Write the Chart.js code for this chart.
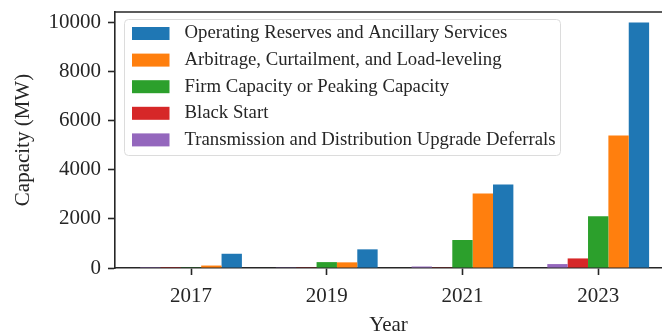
<!DOCTYPE html>
<html>
<head>
<meta charset="utf-8">
<title>Storage capacity by application</title>
<script src="https://cdn.jsdelivr.net/npm/chart.js@4/dist/chart.umd.min.js"></script>
<style>
  html, body { margin: 0; padding: 0; background: #ffffff; }
  #chart { display: block; }
</style>
</head>
<body>
<canvas id="chart" width="662" height="335"></canvas>
<script>
  // Capacity (MW) per year for each application
  var years = [2017, 2019, 2021, 2023];
  var transmissionDeferral = [5, 10, 60, 160];
  var blackStart = [5, 10, 30, 390];
  var firmCapacity = [30, 240, 1140, 2110];
  var arbitrage = [100, 230, 3040, 5400];
  var operatingReserves = [580, 760, 3400, 10000];
  var yTicks = [0, 2000, 4000, 6000, 8000, 10000];

  var INK = '#262626';
  var FONT = "'Liberation Serif', 'Times New Roman', serif";

  // Top spine (the left and bottom ones come from the axis borders)
  var topSpine = {
    id: 'topSpine',
    afterDraw: function (chart) {
      var ctx = chart.ctx;
      var area = chart.chartArea;
      ctx.save();
      ctx.strokeStyle = INK;
      ctx.lineWidth = 1.6;
      ctx.beginPath();
      ctx.moveTo(area.left, area.top);
      ctx.lineTo(chart.width, area.top);
      ctx.stroke();
      ctx.restore();
    }
  };

  // Framed legend in the upper-left corner of the plot, last dataset first
  var boxedLegend = {
    id: 'boxedLegend',
    afterDatasetsDraw: function (chart) {
      var ctx = chart.ctx;
      var area = chart.chartArea;
      var x = area.left + 9.5;
      var y = area.top + 7.5;
      var w = 436;
      var h = 136;
      var r = 4;
      var rowH = 26.6;

      ctx.save();
      ctx.fillStyle = 'rgba(255,255,255,0.8)';
      ctx.strokeStyle = '#dcdcdc';
      ctx.lineWidth = 1;
      ctx.beginPath();
      ctx.roundRect(x, y, w, h, r);
      ctx.fill();
      ctx.stroke();

      ctx.font = '18.75px ' + FONT;
      ctx.textBaseline = 'middle';
      ctx.textAlign = 'left';
      var sets = chart.data.datasets.slice().reverse();
      sets.forEach(function (ds, i) {
        var cy = y + 14 + i * rowH;
        ctx.fillStyle = ds.backgroundColor;
        ctx.fillRect(x + 7.5, cy - 6.5, 37.5, 13);
        ctx.fillStyle = INK;
        ctx.fillText(ds.label, x + 60, cy);
      });
      ctx.restore();
    }
  };

  // keep the plot box fixed: no extra room for half tick labels
  function noEdgePadding(axis) {
    axis.paddingTop = 0;
    axis.paddingBottom = 0;
    axis.paddingLeft = 0;
    axis.paddingRight = 0;
  }

  new Chart(document.getElementById('chart'), {
    type: 'bar',
    data: {
      labels: years,
      datasets: [
        { label: 'Transmission and Distribution Upgrade Deferrals', data: transmissionDeferral, backgroundColor: '#9467bd' },
        { label: 'Black Start', data: blackStart, backgroundColor: '#d62728' },
        { label: 'Firm Capacity or Peaking Capacity', data: firmCapacity, backgroundColor: '#2ca02c' },
        { label: 'Arbitrage, Curtailment, and Load-leveling', data: arbitrage, backgroundColor: '#ff7f0e' },
        { label: 'Operating Reserves and Ancillary Services', data: operatingReserves, backgroundColor: '#1f77b4' }
      ]
    },
    options: {
      responsive: false,
      devicePixelRatio: 1,
      animation: false,
      categoryPercentage: 0.75,
      barPercentage: 1,
      layout: { padding: { top: 12, right: 0, bottom: 0, left: 0 } },
      plugins: {
        legend: { display: false },
        tooltip: { enabled: false }
      },
      scales: {
        x: {
          type: 'linear',
          offset: false,
          bounds: 'data',
          min: 2015.88,
          max: 2023.94,
          afterBuildTicks: function (axis) {
            axis.ticks = years.map(function (v) { return { value: v }; });
          },
          afterFit: function (axis) {
            axis.height = 67;
            noEdgePadding(axis);
          },
          grid: {
            offset: false,
            drawOnChartArea: false,
            drawTicks: true,
            tickLength: 7,
            tickWidth: 1.6,
            tickColor: INK
          },
          border: { display: true, color: INK, width: 1.6 },
          ticks: {
            color: INK,
            padding: 9,
            maxRotation: 0,
            font: { family: FONT, size: 21 },
            callback: function (v) { return String(v); }
          },
          title: {
            display: true,
            text: 'Year',
            color: INK,
            font: { family: FONT, size: 21 },
            padding: { top: 0, bottom: -3 }
          }
        },
        y: {
          min: 0,
          max: 10430,
          bounds: 'data',
          afterBuildTicks: function (axis) {
            axis.ticks = yTicks.map(function (v) { return { value: v }; });
          },
          afterFit: function (axis) {
            axis.width = 115;
            noEdgePadding(axis);
          },
          grid: {
            drawOnChartArea: false,
            drawTicks: true,
            tickLength: 7,
            tickWidth: 1.6,
            tickColor: INK
          },
          border: { display: true, color: INK, width: 1.6 },
          ticks: {
            color: INK,
            padding: 7,
            font: { family: FONT, size: 21 },
            callback: function (v) { return String(v); }
          },
          title: {
            display: true,
            text: 'Capacity (MW)',
            color: INK,
            font: { family: FONT, size: 21 },
            padding: { top: 11, bottom: 0 }
          }
        }
      }
    },
    plugins: [topSpine, boxedLegend]
  });
</script>
</body>
</html>
